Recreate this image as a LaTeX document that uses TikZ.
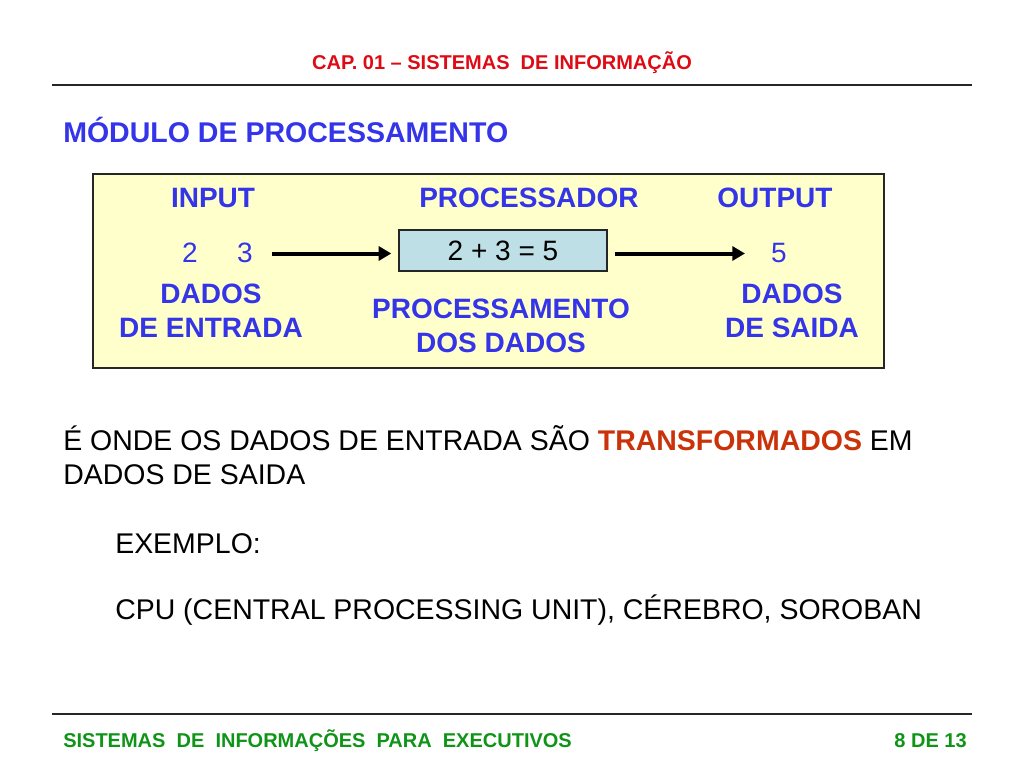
\documentclass[tikz,border=0pt]{standalone}
\usepackage{fontspec}
\setmainfont{Liberation Sans}
\usepackage{xcolor}
\usepackage{tikz}
\usetikzlibrary{calc, positioning, arrows.meta}
\definecolor{ForegroundColour}{HTML}{262626}
\definecolor{Accent1}{HTML}{3434E8}
\definecolor{Accent2}{HTML}{CA330A}
\definecolor{Accent3}{HTML}{DE0A14}
\definecolor{Accent4}{HTML}{109418}
\definecolor{Panel}{HTML}{FFFFCC}
\definecolor{Panel_2}{HTML}{BDDFE5}
\colorlet{Blue}{Accent1}
\colorlet{Green}{Accent4}

\begin{document}
\begin{tikzpicture}[x = 0.75pt, y = -0.75pt,
    every node/.style = {inner sep = 0pt, anchor = base},
    big/.style = {font = \fontsize{21pt}{25pt}\selectfont},
    body/.style = {font = \fontsize{21.35pt}{25pt}\selectfont, anchor = base west},
    heading/.style = {big, font = \fontsize{21pt}{25pt}\selectfont\bfseries, text = Blue},
    small/.style = {font = \fontsize{15pt}{18pt}\selectfont\bfseries},
    sumbox/.style = {draw = ForegroundColour, fill = Panel_2, line width = 1pt, anchor = center,
                     minimum width = 156pt, minimum height = 30.75pt},
    flow/.style = {line width = 3pt, -{Triangle[length = 9.5pt, width = 10.5pt]}}
    ]

    \useasboundingbox (0, 0) rectangle (1024, 768);

    % header and footer
    \node[small, text = Accent3] (chapter) at (502, 69) {CAP. 01 -- SISTEMAS~ DE INFORMAÇÃO};
    \path[draw = ForegroundColour, line width = 1.1pt] (52, 85) -- (972, 85);
    \path[draw = ForegroundColour, line width = 1.1pt] (52, 714) -- (972, 714);
    \node[small, text = Green, anchor = base west] (course) at (63, 747) {SISTEMAS~ DE~ INFORMAÇÕES~ PARA~ EXECUTIVOS};
    \node[small, text = Green, anchor = base east] (page) at (967, 747) {8 DE 13};

    \node[heading, font = \fontsize{21.4pt}{25pt}\selectfont\bfseries, anchor = base west] (title) at (63, 142) {MÓDULO DE PROCESSAMENTO};

    % the module
    \path[draw = ForegroundColour, fill = Panel, line width = 0.8pt] (93, 174) rectangle (884, 368);

    \node[heading] (input)  at (213, 207) {INPUT};
    \node[heading] (proc)   at (529, 207) {PROCESSADOR};
    \node[heading] (output) at (775, 207) {OUTPUT};

    \node[big, text = Blue] (two)   at (190, 262) {2};
    \node[big, text = Blue] (three) at (245, 262) {3};
    \node[sumbox, big] (sum) at (503, 250.5) {2 + 3 = 5};
    \node[big, text = Blue] (five)  at (779, 262) {5};

    \draw[flow] ($(three.east |- sum.west) + (19, 3)$) -- ($(sum.west) + (-7, 3)$);
    \draw[flow] ($(sum.east) + (7, 3)$) -- ($(five.west |- sum.east) + (-26, 3)$);

    \node[heading] (dadosin)  at (211, 303) {DADOS};
    \node[heading] (entrada)  at (211, 337) {DE ENTRADA};
    \node[heading] (procdados) at (501, 318) {PROCESSAMENTO};
    \node[heading] (dosdados) at (501, 352) {DOS DADOS};
    \node[heading] (dadosout) at (792, 303) {DADOS};
    \node[heading] (saida)    at (792, 337) {DE SAIDA};

    % text below
    \node[body] (line1) at (63, 450)
        {É ONDE OS DADOS DE ENTRADA SÃO \textcolor{Accent2}{\bfseries TRANSFORMADOS} EM};
    \node[body] (line2) at (63, 484) {DADOS DE SAIDA};
    \node[body] (example) at (115, 553) {EXEMPLO:};
    \node[body] (cpu) at (115, 619) {CPU (CENTRAL PROCESSING UNIT), CÉREBRO, SOROBAN};
\end{tikzpicture}
\end{document}
